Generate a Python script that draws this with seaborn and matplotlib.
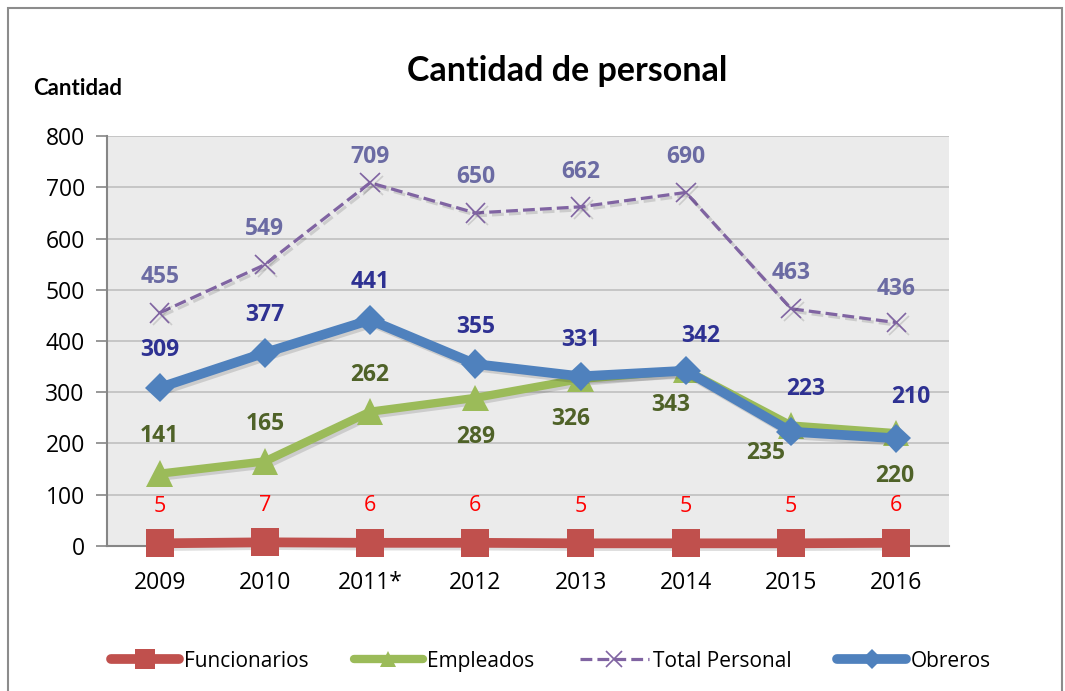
import numpy as np
import pandas as pd
import matplotlib
matplotlib.use("Agg")
import matplotlib.pyplot as plt
import matplotlib.patheffects as pe
from matplotlib.patches import Rectangle
import seaborn as sns

years = ["2009", "2010", "2011*", "2012", "2013", "2014", "2015", "2016"]
funcionarios = [5, 7, 6, 6, 5, 5, 5, 6]
empleados = [141, 165, 262, 289, 326, 343, 235, 220]
total_personal = [455, 549, 709, 650, 662, 690, 463, 436]
obreros = [309, 377, 441, 355, 331, 342, 223, 210]
yticks = [0, 100, 200, 300, 400, 500, 600, 700, 800]

sns.set_theme(style="white")
plt.rcParams['font.family'] = ['Open Sans', 'DejaVu Sans']
plt.rcParams['text.color'] = 'black'
plt.rcParams['xtick.color'] = 'black'
plt.rcParams['ytick.color'] = 'black'
plt.rcParams['axes.labelcolor'] = 'black'

fig = plt.figure(figsize=(10.65, 6.91), dpi=100)
ax = fig.add_axes([0.1005, 0.21, 0.7905, 0.593])
ax.set_facecolor("#EBEBEB")

x = np.arange(len(years))
shadow = [pe.SimpleLineShadow(offset=(2, -2), alpha=0.13, shadow_color="black"), pe.Normal()]

series = [
    ("Funcionarios", funcionarios, "#C0504D", "s", 20, "-", 7),
    ("Empleados", empleados, "#9BBB59", "^", 19, "-", 6),
    ("Total Personal", total_personal, "#8064A2", "x", 14, "--", 2.3),
    ("Obreros", obreros, "#4F81BD", "D", 15, "-", 7),
]
for name, vals, col, mk, ms, ls, lw in series:
    df = pd.DataFrame({"x": x, "y": vals})
    sns.lineplot(data=df, x="x", y="y", ax=ax, color=col, marker=mk,
                 markersize=ms, linestyle=ls, linewidth=lw, label=name,
                 markeredgecolor=col, markeredgewidth=(1.2 if mk == "x" else 0),
                 path_effects=shadow, zorder=3, clip_on=False,
                 dashes=(3.6, 2.0) if ls == "--" else None)

ax.set_xlim(-0.5, len(years) - 0.5)
ax.set_ylim(0, 800)
ax.set_yticks(yticks)
ax.set_xticks(x)
ax.set_xticklabels(years)
ax.set_xticks(np.arange(-0.5, len(years)), minor=True)
ax.tick_params(axis="x", which="major", length=0, labelsize=16.5, pad=18, colors="black")
ax.tick_params(axis="x", which="minor", length=7, width=1.2, color="#868686", direction="out")
ax.tick_params(axis="y", length=8, width=1.2, color="#868686", labelsize=16.5, direction="out",
               left=True, pad=8, labelcolor="black")
ax.grid(axis="y", color="#BFBFBF", linewidth=1.2)
ax.set_axisbelow(True)
for s in ["top", "right"]:
    ax.spines[s].set_visible(False)
for s in ["left", "bottom"]:
    ax.spines[s].set_color("#868686")
    ax.spines[s].set_linewidth(1.5)
ax.set_xlabel("")
ax.set_ylabel("")

# data labels
def lab(vals, offsets, color, bold=True, size=16.5):
    for i, v in enumerate(vals):
        dx, dy = offsets[i]
        ax.annotate(str(v), (x[i], v), xytext=(dx, dy), textcoords="offset pixels",
                    ha="center", va="center", color=color, fontsize=size,
                    fontweight="bold" if bold else "normal", zorder=5)

lab(total_personal, [(0, 36), (0, 36), (0, 26), (0, 36), (0, 35), (0, 35), (0, 36), (0, 34)], "#6B6BA3")
lab(obreros, [(0, 38), (0, 38), (0, 38), (0, 37), (0, 36), (15, 35), (15, 43), (14, 41)], "#2E3192")
lab(empleados, [(0, 38), (0, 37), (0, 37), (0, -39), (-10, -40), (-15, -35), (-25, -27), (-2, -43)], "#4F6228")
lab(funcionarios, [(0, 37)] * 8, "#FF0000", bold=False, size=15.5)

fig.text(0.533, 0.897, "Cantidad de personal", ha="center", va="center",
         fontsize=24.5, fontweight="bold", family=["Lato", "DejaVu Sans"], color="black")
fig.text(0.031, 0.872, "Cantidad", ha="left", va="center",
         fontsize=16, fontweight="bold", family=["Lato", "DejaVu Sans"], color="black")

leg = ax.legend(loc="center", bbox_to_anchor=(0.517, 0.043), bbox_transform=fig.transFigure,
                ncol=4, frameon=False, fontsize=15, handlelength=3.3,
                columnspacing=2.2, handletextpad=0.2)
for t in leg.get_texts():
    t.set_color("black")
for h in leg.get_lines():
    h.set_path_effects([])
    if h.get_marker() == "s":
        h.set_markersize(14)
    elif h.get_marker() == "^":
        h.set_markersize(11)
    elif h.get_marker() == "D":
        h.set_markersize(10)
    elif h.get_marker() == "x":
        h.set_markersize(11)

fig.patches.append(Rectangle((8 / 1065, -0.05), 1054 / 1065, 1.05 - 8 / 691,
                             transform=fig.transFigure, fill=False,
                             edgecolor="#8C8C8C", linewidth=1.5))

fig.savefig("out.png", dpi=100)
